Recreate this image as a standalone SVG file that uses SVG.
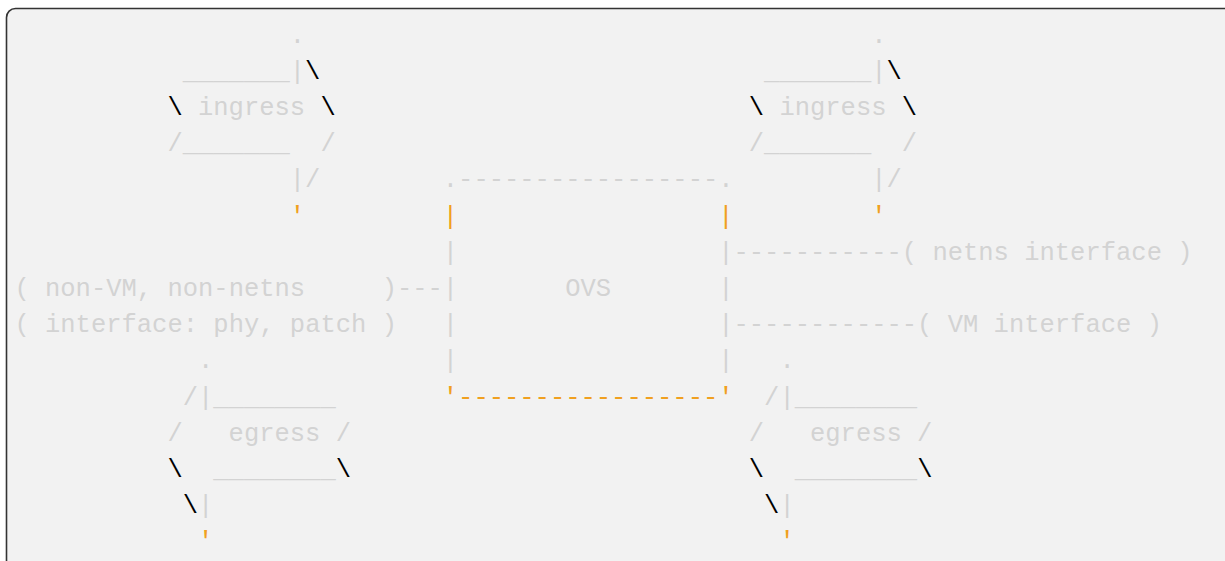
<svg xmlns="http://www.w3.org/2000/svg" width="1225" height="561" viewBox="0 0 1225 561">
<style>
text{font-family:"Liberation Mono","DejaVu Sans Mono",monospace;font-size:25.5px;white-space:pre}
.g{fill:#d3d3d3}.k{fill:#000}.o{fill:#f0a020}
</style>
<rect x="0" y="0" width="1225" height="561" fill="#ffffff"/>
<rect x="6.5" y="8.5" width="1240" height="620" rx="9" fill="#f2f2f2" stroke="#333333" stroke-width="1.6"/>
<g id="ingress-left">
<text class="g" x="289.8" y="42.6">.</text>
<text x="182.7" y="78.8"><tspan class="g">_______|</tspan><tspan class="k">\</tspan></text>
<text x="167.4" y="115"><tspan class="k">\</tspan><tspan class="g"> ingress </tspan><tspan class="k">\</tspan></text>
<text class="g" x="167.4" y="151.2">/_______  /</text>
<text class="g" x="289.8" y="187.4">|/</text>
<text class="o" x="289.8" y="223.6">'</text>
</g>
<g id="ingress-right">
<text class="g" x="871.2" y="42.6">.</text>
<text x="764.1" y="78.8"><tspan class="g">_______|</tspan><tspan class="k">\</tspan></text>
<text x="748.8" y="115"><tspan class="k">\</tspan><tspan class="g"> ingress </tspan><tspan class="k">\</tspan></text>
<text class="g" x="748.8" y="151.2">/_______  /</text>
<text class="g" x="871.2" y="187.4">|/</text>
<text class="o" x="871.2" y="223.6">'</text>
</g>
<g id="ovs">
<text class="g" x="442.8" y="187.4">.-----------------.</text>
<text class="o" x="442.8" y="223.6">|</text>
<text class="o" x="718.2" y="223.6">|</text>
<text class="g" x="442.8" y="259.8">|</text>
<text class="g" x="718.2" y="259.8">|</text>
<text class="g" x="442.8" y="296">|</text>
<text class="g" x="565.2" y="296">OVS</text>
<text class="g" x="718.2" y="296">|</text>
<text class="g" x="442.8" y="332.2">|</text>
<text class="g" x="718.2" y="332.2">|</text>
<text class="g" x="442.8" y="368.4">|</text>
<text class="g" x="718.2" y="368.4">|</text>
<text class="o" x="442.8" y="404.6">'-----------------'</text>
</g>
<g id="non-vm-interface">
<text class="g" x="14.4" y="296">( non-VM, non-netns     )</text>
<text class="g" x="14.4" y="332.2">( interface: phy, patch )</text>
</g>
<g id="netns-interface">
<text class="g" x="901.8" y="259.8">( netns interface )</text>
</g>
<g id="vm-interface">
<text class="g" x="917.1" y="332.2">( VM interface )</text>
</g>
<g id="connectors">
<text class="g" x="396.9" y="296">---</text>
<text class="g" x="733.5" y="259.8">-----------</text>
<text class="g" x="733.5" y="332.2">------------</text>
</g>
<g id="egress-left">
<text class="g" x="198" y="368.4">.</text>
<text class="g" x="182.7" y="404.6">/|________</text>
<text class="g" x="167.4" y="440.8">/   egress /</text>
<text x="167.4" y="477"><tspan class="k">\</tspan><tspan class="g">  ________</tspan><tspan class="k">\</tspan></text>
<text x="182.7" y="513.2"><tspan class="k">\</tspan><tspan class="g">|</tspan></text>
<text class="o" x="198" y="549.4">'</text>
</g>
<g id="egress-right">
<text class="g" x="779.4" y="368.4">.</text>
<text class="g" x="764.1" y="404.6">/|________</text>
<text class="g" x="748.8" y="440.8">/   egress /</text>
<text x="748.8" y="477"><tspan class="k">\</tspan><tspan class="g">  ________</tspan><tspan class="k">\</tspan></text>
<text x="764.1" y="513.2"><tspan class="k">\</tspan><tspan class="g">|</tspan></text>
<text class="o" x="779.4" y="549.4">'</text>
</g>
</svg>
